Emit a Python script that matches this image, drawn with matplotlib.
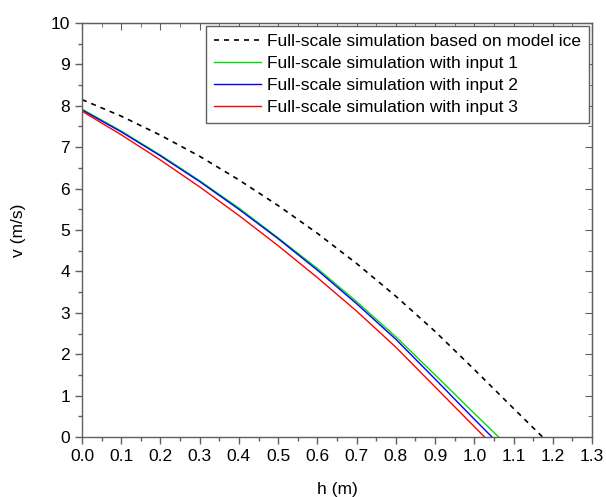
import matplotlib
matplotlib.use("Agg")
import matplotlib.pyplot as plt
from matplotlib.ticker import MultipleLocator, FormatStrFormatter

plt.rcParams['font.family'] = ['Liberation Sans', 'DejaVu Sans']

h_model = [0.0, 0.1, 0.2, 0.3, 0.4, 0.5, 0.6, 0.7, 0.8, 0.9, 1.0, 1.1, 1.174]
v_model = [8.15, 7.75, 7.29, 6.78, 6.21, 5.59, 4.92, 4.19, 3.40, 2.55, 1.63, 0.69, 0.0]

h_in1 = [0.0, 0.1, 0.2, 0.3, 0.4, 0.5, 0.6, 0.7, 0.8, 0.9, 1.0, 1.062]
v_in1 = [7.92, 7.39, 6.81, 6.19, 5.53, 4.81, 4.07, 3.27, 2.42, 1.50, 0.57, 0.0]

h_in2 = [0.0, 0.1, 0.2, 0.3, 0.4, 0.5, 0.6, 0.7, 0.8, 0.9, 1.0, 1.045]
v_in2 = [7.90, 7.37, 6.79, 6.17, 5.50, 4.79, 4.03, 3.22, 2.36, 1.40, 0.43, 0.0]

h_in3 = [0.0, 0.1, 0.2, 0.3, 0.4, 0.5, 0.6, 0.7, 0.8, 0.9, 1.0, 1.026]
v_in3 = [7.87, 7.30, 6.69, 6.04, 5.35, 4.62, 3.85, 3.04, 2.17, 1.21, 0.25, 0.0]

labels = ["Full-scale simulation based on model ice",
          "Full-scale simulation with input 1",
          "Full-scale simulation with input 2",
          "Full-scale simulation with input 3"]

fig = plt.figure(figsize=(6.06, 4.97), dpi=100)
ax = fig.add_axes([82/606, 60/497, 510/606, 414/497])

ax.plot(h_model, v_model, color='black', lw=1.2, ls=(0, (3, 3)), label=labels[0])
ax.plot(h_in1, v_in1, color='#00e000', lw=1.0, label=labels[1])
ax.plot(h_in2, v_in2, color='#0000ff', lw=1.0, label=labels[2])
ax.plot(h_in3, v_in3, color='#ff0000', lw=1.0, label=labels[3])

ax.set_xlim(0, 1.3)
ax.set_ylim(0, 10)
ax.xaxis.set_major_locator(MultipleLocator(0.1))
ax.xaxis.set_minor_locator(MultipleLocator(0.05))
ax.yaxis.set_major_locator(MultipleLocator(1))
ax.yaxis.set_minor_locator(MultipleLocator(0.5))
ax.xaxis.set_major_formatter(FormatStrFormatter('%.1f'))

for sp in ax.spines.values():
    sp.set_color('#606060')
    sp.set_linewidth(1.0)

ax.tick_params(which='both', direction='out', color='#606060', labelsize=12.5,
               top=False, right=False)
ax.tick_params(which='major', length=5, width=1)
ax.tick_params(which='minor', length=3, width=1)

axt = ax.secondary_xaxis('top')
axt.xaxis.set_major_locator(MultipleLocator(0.1))
axt.xaxis.set_minor_locator(MultipleLocator(0.05))
axt.tick_params(which='both', direction='in', color='#606060', labeltop=False)
axt.tick_params(which='major', length=5)
axt.tick_params(which='minor', length=3)
axt.spines['top'].set_color('#606060')
axr = ax.secondary_yaxis('right')
axr.yaxis.set_major_locator(MultipleLocator(1))
axr.yaxis.set_minor_locator(MultipleLocator(0.5))
axr.tick_params(which='both', direction='in', color='#606060', labelright=False)
axr.tick_params(which='major', length=5)
axr.tick_params(which='minor', length=3)
axr.spines['right'].set_color('#606060')

ax.set_xlabel('h (m)', fontsize=12.5, labelpad=13)
ax.set_ylabel('v (m/s)', fontsize=12.5, labelpad=18)

leg = ax.legend(loc='upper right', bbox_to_anchor=(589/606, 1 - 26/497),
                bbox_transform=fig.transFigure, fontsize=12.5, frameon=True,
                fancybox=False, edgecolor='#606060', framealpha=1,
                handlelength=2.7, handletextpad=0.35, labelspacing=0.4,
                borderpad=0.45, borderaxespad=0)
leg.get_frame().set_linewidth(1.0)

fig.savefig('out.png', dpi=100)
